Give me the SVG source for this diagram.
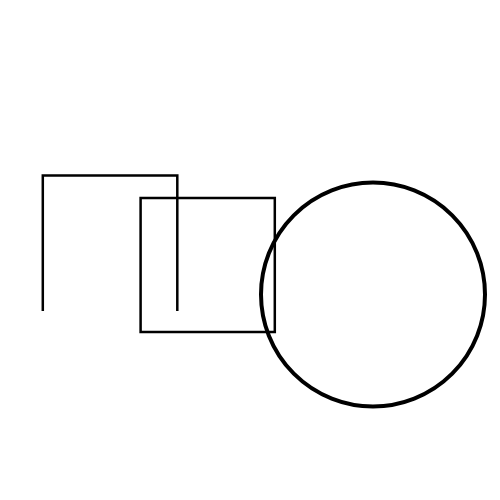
<svg xmlns="http://www.w3.org/2000/svg" width="500" height="500" viewBox="0 0 500 500">
<style>.s{fill:none;stroke:#000;stroke-width:2.5}.c{fill:none;stroke:#000;stroke-width:4}</style>
<rect width="500" height="500" fill="#fff"/>
<g id="bracket"><path class="s" d="M42.8 311 V175.6 H177.3 V311"/></g>
<g id="square"><rect class="s" x="140.6" y="198" width="134.2" height="134"/></g>
<g id="circle"><circle class="c" cx="373" cy="294.5" r="112"/></g>
</svg>
